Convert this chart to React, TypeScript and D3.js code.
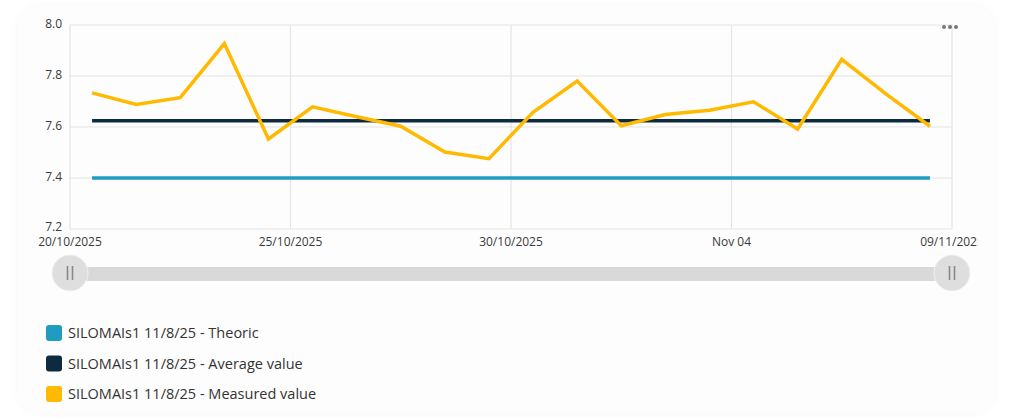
import { useMemo } from "react";
import * as d3 from "d3";

// Daily readings, one per day (plotted at noon), 20/10/2025 .. 08/11/2025
const startDay = "2025-10-20";
const measured = [7.734, 7.688, 7.715, 7.927, 7.553, 7.679, 7.64, 7.603, 7.502, 7.476, 7.658, 7.78, 7.605, 7.649, 7.666, 7.699, 7.592, 7.865, 7.73, 7.603];
const averageValue = 7.625;
const theoricValue = 7.4;

const yTicks = [7.2, 7.4, 7.6, 7.8, 8.0];
const xTickDates = ["2025-10-20", "2025-10-25", "2025-10-30", "2025-11-04", "2025-11-09"];
const xTickLabels = ["20/10/2025", "25/10/2025", "30/10/2025", "Nov 04", "09/11/2025"];

const seriesNames = ["SILOMAIs1 11/8/25 - Theoric", "SILOMAIs1 11/8/25 - Average value", "SILOMAIs1 11/8/25 - Measured value"];
const seriesColors = ["#1f9cc0", "#0c2b40", "#ffb900"];

const W = 1024, H = 418;
const font = "'Open Sans', 'Noto Sans', sans-serif";

export default function App() {
  const parse = d3.utcParse("%Y-%m-%d");
  const day0 = parse(startDay)!;
  const pts = useMemo(
    () => measured.map((v, i) => ({ d: d3.utcHour.offset(d3.utcDay.offset(day0, i), 12), v })),
    []
  );

  const x = d3.scaleUtc().domain([parse(xTickDates[0])!, parse(xTickDates[4])!]).range([70, 952]);
  const y = d3.scaleLinear().domain([7.2, 8.0]).range([229, 25]);

  const line = d3.line<{ d: Date; v: number }>().x((p) => x(p.d)).y((p) => y(p.v));
  const first = pts[0].d, last = pts[pts.length - 1].d;
  const [x0, x1] = x.range();

  return (
    <svg width={W} height={H} style={{ position: "absolute", left: 0, top: 0, display: "block" }} fontFamily={font}>
      <defs>
        <filter id="sh" x="-5%" y="-5%" width="110%" height="110%">
          <feDropShadow dx="0" dy="0" stdDeviation="4" floodColor="#000" floodOpacity="0.035" />
        </filter>
        <clipPath id="card"><rect x={0} y={0} width={978} height={H} /></clipPath>
      </defs>
      <rect width={W} height={H} fill="#fff" />
      <rect x={18} y={6} width={976} height={408} rx={24} fill="#fdfdfd" filter="url(#sh)" />

      {/* grid */}
      {yTicks.map((t) => (
        <g key={`y${t}`}>
          <line x1={x0} x2={x1} y1={y(t)} y2={y(t)} stroke="#e4e4e4" strokeWidth={1.2} />
          <text x={62} y={y(t) + (t === 7.2 ? 1.5 : 3)} textAnchor="end" fontSize={12} fill="#3a3a3a">{t.toFixed(1)}</text>
        </g>
      ))}
      {xTickDates.map((s) => (
        <line key={`xg${s}`} x1={x(parse(s)!)} x2={x(parse(s)!)} y1={y(8.0)} y2={y(7.2)} stroke="#e4e4e4" strokeWidth={1.2} />
      ))}
      <g clipPath="url(#card)">
        {xTickDates.map((s, i) => (
          <text key={`xl${s}`} x={x(parse(s)!)} y={246} textAnchor="middle" fontSize={12} fill="#3a3a3a">{xTickLabels[i]}</text>
        ))}
      </g>

      {/* series */}
      <line x1={x(first)} x2={x(last)} y1={y(theoricValue)} y2={y(theoricValue)} stroke={seriesColors[0]} strokeWidth={3.5} />
      <line x1={x(first)} x2={x(last)} y1={y(averageValue)} y2={y(averageValue)} stroke={seriesColors[1]} strokeWidth={3.5} />
      <path d={line(pts)!} fill="none" stroke={seriesColors[2]} strokeWidth={3.5} strokeLinejoin="miter" />

      {/* more options */}
      {[0, 1, 2].map((k) => (
        <circle key={k} cx={944 + k * 6} cy={27} r={2} fill="#777" />
      ))}

      {/* range slider */}
      <rect x={x0} y={267} width={x1 - x0} height={14} fill="#d9d9d9" />
      {[x0, x1].map((cx, k) => (
        <g key={k}>
          <circle cx={cx} cy={273} r={18} fill="#dedede" stroke="#f2f2f2" strokeWidth={1} />
          <line x1={cx - 2.5} x2={cx - 2.5} y1={266} y2={280} stroke="#888" strokeWidth={1.6} />
          <line x1={cx + 2.5} x2={cx + 2.5} y1={266} y2={280} stroke="#888" strokeWidth={1.6} />
        </g>
      ))}

      {/* legend */}
      {seriesNames.map((n, i) => (
        <g key={n} transform={`translate(46,${325 + i * 30.5})`}>
          <rect x={0} y={0} width={16} height={16} rx={3} fill={seriesColors[i]} />
          <text x={22} y={13} fontSize={14.5} fill="#333">{n}</text>
        </g>
      ))}
    </svg>
  );
}
